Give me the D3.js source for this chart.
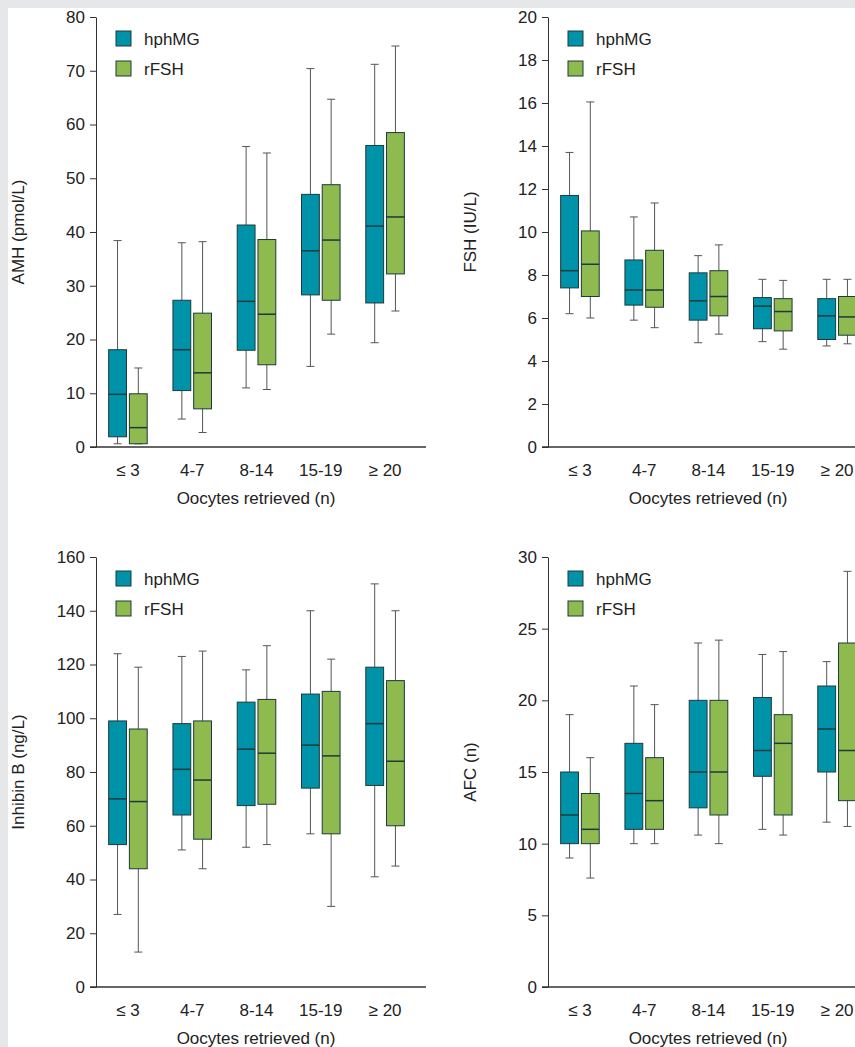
<!DOCTYPE html>
<html><head><meta charset="utf-8">
<script src="https://cdn.jsdelivr.net/npm/d3@7"></script>
<style>body{margin:0;background:#e6e7e8;font-family:Arial,"Liberation Sans",sans-serif}</style>
</head><body>
<svg id="c" width="855" height="1047"></svg>
<script>
const categories = ["≤ 3","4-7","8-14","15-19","≥ 20"];
const series = ["hphMG","rFSH"];
const colors = ["#0092a9","#8fba50"];
// [min, q1, median, q3, max] per category
const amhHph = [[0.6,1.9,9.8,18.1,38.4],[5.2,10.5,18.1,27.3,38],[11,18,27.1,41.3,55.9],[15,28.3,36.5,47,70.4],[19.4,26.8,41.1,56.1,71.2]];
const amhR   = [[0.6,0.6,3.6,9.9,14.7],[2.7,7.1,13.8,24.9,38.2],[10.7,15.3,24.7,38.6,54.7],[21,27.3,38.5,48.8,64.7],[25.3,32.2,42.8,58.5,74.6]];
const fshHph = [[6.2,7.4,8.2,11.7,13.7],[5.9,6.6,7.3,8.7,10.7],[4.85,5.9,6.8,8.1,8.9],[4.9,5.5,6.55,6.95,7.8],[4.7,5.0,6.1,6.9,7.8]];
const fshR   = [[6.0,7.0,8.5,10.05,16.05],[5.55,6.5,7.3,9.15,11.35],[5.25,6.1,7.0,8.2,9.4],[4.55,5.4,6.3,6.9,7.75],[4.8,5.2,6.05,7.0,7.8]];
const inhHph = [[27,53,70,99,124],[51,64,81,98,123],[52,67.5,88.5,106,118],[57,74,90,109,140],[41,75,98,119,150]];
const inhR   = [[13,44,69,96,119],[44,55,77,99,125],[53,68,87,107,127],[30,57,86,110,122],[45,60,84,114,140]];
const afcHph = [[9,10,12,15,19],[10,11,13.5,17,21],[10.6,12.5,15,20,24],[11,14.7,16.5,20.2,23.2],[11.5,15,18,21,22.7]];
const afcR   = [[7.6,10,11,13.5,16],[10,11,13,16,19.7],[10,12,15,20,24.2],[10.6,12,17,19,23.4],[11.2,13,16.5,24,29]];
const amhTicks = [0,10,20,30,40,50,60,70,80];
const fshTicks = [0,2,4,6,8,10,12,14,16,18,20];
const inhTicks = [0,20,40,60,80,100,120,140,160];
const afcTicks = [0,5,10,15,20,25,30];

const FS = 17;
const svg = d3.select("#c");
svg.append("rect").attr("x",8).attr("y",8).attr("width",847).attr("height",1039).attr("fill","#fff");

function panel(ox, oy, ylabel, ticks, data){
  const y = d3.scaleLinear().domain([0, ticks[ticks.length-1]]).range([oy+430, oy]);
  const x = d3.scaleBand().domain(categories).range([ox+3, ox+318]).paddingInner(0.4).paddingOuter(0.15);
  const sub = d3.scaleBand().domain(series).range([0, x.bandwidth()]).paddingInner(0.14);
  const g = svg.append("g");
  const ax = g.append("g").attr("transform",`translate(${ox},0)`).call(d3.axisLeft(y).tickValues(ticks).tickSize(6).tickSizeOuter(0).tickPadding(5));
  ax.select(".domain").attr("stroke","#333");
  ax.selectAll(".tick line").attr("stroke","#333");
  ax.selectAll("text").attr("font-size",FS).attr("fill","#222").attr("font-family","Arial,'Liberation Sans',sans-serif");
  g.append("line").attr("x1",ox-6).attr("x2",ox+330).attr("y1",y(0)).attr("y2",y(0)).attr("stroke","#333").attr("stroke-width",1.3);
  categories.forEach((c,i)=>{
    g.append("text").attr("x",x(c)+x.bandwidth()/2).attr("y",y(0)+29).attr("text-anchor","middle").attr("font-size",FS).attr("fill","#222").text(c);
    data.forEach((s,k)=>{
      const d = s[i]; const bx = x(c)+sub(series[k]); const w = sub.bandwidth(); const cx = bx+w/2;
      g.append("line").attr("x1",cx).attr("x2",cx).attr("y1",y(d[0])).attr("y2",y(d[4])).attr("stroke","#555");
      [d[0],d[4]].forEach(v=>g.append("line").attr("x1",cx-4).attr("x2",cx+4).attr("y1",y(v)).attr("y2",y(v)).attr("stroke","#555"));
      g.append("rect").attr("x",bx).attr("width",w).attr("y",y(d[3])).attr("height",y(d[1])-y(d[3])).attr("fill",colors[k]).attr("stroke","#1d3a3a").attr("stroke-width",1);
      g.append("line").attr("x1",bx).attr("x2",bx+w).attr("y1",y(d[2])).attr("y2",y(d[2])).attr("stroke","#1d3a3a").attr("stroke-width",1.5);
    });
  });
  g.append("text").attr("x",ox+160).attr("y",y(0)+57).attr("text-anchor","middle").attr("font-size",FS).attr("fill","#222").text("Oocytes retrieved (n)");
  g.append("text").attr("transform",`translate(${ox-72},${oy+215}) rotate(-90)`).attr("text-anchor","middle").attr("font-size",FS).attr("fill","#222").text(ylabel);
  series.forEach((s,k)=>{
    g.append("rect").attr("x",ox+20).attr("y",oy+14+k*30).attr("width",15).attr("height",15).attr("fill",colors[k]).attr("stroke","#1d3a3a");
    g.append("text").attr("x",ox+48).attr("y",oy+28+k*30).attr("font-size",FS).attr("fill","#222").text(s);
  });
}
panel(96,17,"AMH (pmol/L)",amhTicks,[amhHph,amhR]);
panel(548,17,"FSH (IU/L)",fshTicks,[fshHph,fshR]);
panel(96,557,"Inhibin B (ng/L)",inhTicks,[inhHph,inhR]);
panel(548,557,"AFC (n)",afcTicks,[afcHph,afcR]);
</script>
</body></html>
